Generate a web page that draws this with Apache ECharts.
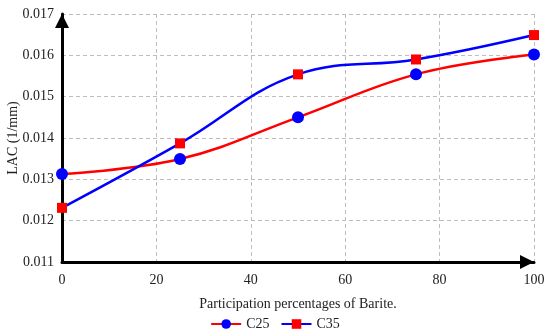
<!DOCTYPE html>
<html><head><meta charset="utf-8">
<script src="https://cdn.jsdelivr.net/npm/echarts@6/dist/echarts.min.js"></script>
<style>html,body{margin:0;padding:0;background:#fff}#c{width:550px;height:336px}</style>
</head><body><div id="c"></div>
<script>
const xValues = [0, 25, 50, 75, 100];
const c25 = [0.01313, 0.01349, 0.01450, 0.01554, 0.01602];
const c35 = [0.01231, 0.01387, 0.01554, 0.01590, 0.01649];
const seriesNames = ['C25', 'C35'];
const yTicks = [0.011, 0.012, 0.013, 0.014, 0.015, 0.016, 0.017];
const xTitle = 'Participation percentages of Barite.';
const yTitle = 'LAC (1/mm)';

const font = 'Liberation Serif';
const chart = echarts.init(document.getElementById('c'));
const pair = (xs, ys) => xs.map((x, i) => [x, ys[i]]);
chart.setOption({
  animation: false,
  backgroundColor: '#fff',
  textStyle: { fontFamily: font },
  grid: { left: 62, right: 16, top: 14, bottom: 74, containLabel: false, outerBoundsMode: 'none' },
  xAxis: {
    type: 'value', min: 0, max: 100, interval: 20,
    name: xTitle, nameLocation: 'middle', nameGap: 35, nameMoveOverlap: false,
    nameTextStyle: { fontFamily: font, fontSize: 14, color: '#222' },
    axisLine: { lineStyle: { color: '#000', width: 3 }, symbol: ['none', 'triangle'], symbolSize: [14, 14], symbolOffset: [0, -7] },
    axisTick: { show: false },
    axisLabel: { fontFamily: font, fontSize: 14, color: '#222', margin: 11 },
    splitLine: { show: true, lineStyle: { color: '#bdbdbd', type: [4, 3], width: 1 } }
  },
  yAxis: {
    type: 'value', min: yTicks[0], max: yTicks[yTicks.length - 1], interval: 0.001,
    name: yTitle, nameLocation: 'middle', nameGap: 42, nameRotate: 90, nameMoveOverlap: false,
    nameTextStyle: { fontFamily: font, fontSize: 14, color: '#222' },
    axisLine: { show: true, lineStyle: { color: '#000', width: 3 }, symbol: ['none', 'triangle'], symbolSize: [14, 14], symbolOffset: [0, -7] },
    axisTick: { show: false },
    axisLabel: { fontFamily: font, fontSize: 14, color: '#222', margin: 8, formatter: v => v.toFixed(3) },
    splitLine: { show: true, lineStyle: { color: '#bdbdbd', type: [4, 3], width: 1 } }
  },
  legend: {
    bottom: 0, left: 'center', itemWidth: 30, itemHeight: 12, itemGap: 11,
    textStyle: { fontFamily: font, fontSize: 14, color: '#222' },
    data: seriesNames
  },
  series: [
    {
      name: seriesNames[0], type: 'line', smooth: 0.4, data: pair(xValues, c25),
      symbol: 'circle', symbolSize: 12,
      lineStyle: { color: '#ff0000', width: 2.5 },
      itemStyle: { color: '#0000ff' }, z: 3
    },
    {
      name: seriesNames[1], type: 'line', smooth: 0.4, data: pair(xValues, c35),
      symbol: 'rect', symbolSize: 10,
      lineStyle: { color: '#0000ff', width: 2.5 },
      itemStyle: { color: '#ff0000' }, z: 4
    }
  ]
});
</script></body></html>
